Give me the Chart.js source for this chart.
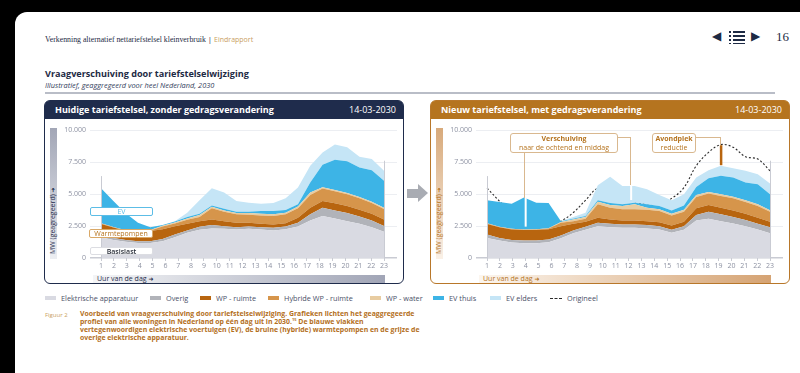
<!DOCTYPE html>
<html><head><meta charset="utf-8">
<script src="https://cdn.jsdelivr.net/npm/chart.js@4.4.1/dist/chart.umd.min.js"></script>
<style>
html,body{margin:0;padding:0;background:#000;}
#wrap{position:relative;width:800px;height:373px;background:#000;overflow:hidden;font-family:"Open Sans",sans-serif;}
#page{position:absolute;left:15px;top:12px;width:785px;height:361px;background:#fff;border-top-left-radius:12px;}
.abs{position:absolute;white-space:nowrap;}
.panel{position:absolute;top:100px;width:360px;height:184px;border-radius:6px;box-sizing:border-box;}
.phead{position:absolute;left:0;top:0;right:0;height:18px;border-radius:4px 4px 0 0;color:#fff;font-size:9px;line-height:18px;}
canvas{position:absolute;}
.lbox{position:absolute;background:#fff;border-radius:2px;font-size:7px;line-height:7px;text-align:center;box-sizing:border-box;z-index:5;}
.ann{position:absolute;background:#fff;border:1px solid #d9b88f;border-radius:3px;box-sizing:border-box;text-align:center;color:#b5731e;font-size:7px;line-height:8.5px;z-index:5;padding-top:1px;}
.cline{position:absolute;background:#d9b88f;z-index:4;}
</style></head>
<body>
<div id="wrap">
<div id="page"></div>

<div class="abs" style="left:45px;top:34px;font-family:'Liberation Serif',serif;font-size:7.8px;color:#1d2a44;">Verkenning alternatief nettariefstelsel kleinverbruik <span style="font-family:'Open Sans';color:#1d2a44;">|</span> <span style="font-family:'Open Sans';font-size:7px;color:#c9a062;">Eindrapport</span></div>
<div class="abs" style="left:712px;top:29px;font-size:12px;color:#1d2a44;font-family:'DejaVu Sans';">◀</div>
<div class="abs" style="left:729px;top:30px;width:16px;height:14px;">
  <div style="position:absolute;left:0;top:1px;width:2px;height:2px;background:#1d2a44"></div><div style="position:absolute;left:4px;top:1px;width:12px;height:2px;background:#1d2a44"></div>
  <div style="position:absolute;left:0;top:5px;width:2px;height:2px;background:#1d2a44"></div><div style="position:absolute;left:4px;top:5px;width:12px;height:2px;background:#1d2a44"></div>
  <div style="position:absolute;left:0;top:9px;width:2px;height:2px;background:#1d2a44"></div><div style="position:absolute;left:4px;top:9px;width:12px;height:2px;background:#1d2a44"></div>
  <div style="position:absolute;left:0;top:13px;width:2px;height:1px;background:#1d2a44"></div><div style="position:absolute;left:4px;top:13px;width:12px;height:1px;background:#1d2a44"></div>
</div>
<div class="abs" style="left:751px;top:29px;font-size:12px;color:#1d2a44;font-family:'DejaVu Sans';">▶</div>
<div class="abs" style="left:776px;top:29px;font-family:'Liberation Serif',serif;font-size:13px;color:#1d2a44;">16</div>

<div class="abs" style="left:45px;top:67px;font-size:9.1px;font-weight:700;color:#1d2a44;">Vraagverschuiving door tariefstelselwijziging</div>
<div class="abs" style="left:45px;top:80px;font-size:7.4px;font-style:italic;color:#33405c;">Illustratief, geaggregeerd voor heel Nederland, 2030</div>
<div class="abs" style="left:45px;top:92px;width:730px;height:1.5px;background:#b9bdc7;"></div>

<!-- left panel -->
<div class="panel" style="left:44px;border:1.5px solid #1f2c4c;">
  <div class="phead" style="background:#1f2c4c;">
    <span style="position:absolute;left:10px;font-weight:700;">Huidige tariefstelsel, zonder gedragsverandering</span>
    <span style="position:absolute;right:7px;">14-03-2030</span>
  </div>
</div>
<div class="abs" style="left:50px;top:128px;width:7px;height:131px;background:linear-gradient(to top,#eceef2,#a2a6b6);"></div>
<div class="abs" style="left:48px;top:254px;transform-origin:0 0;transform:rotate(-90deg);font-size:7px;color:#1f2c4c;line-height:10px;">MW (geagregeerd) <span style="font-family:'DejaVu Sans';font-size:6px;">➜</span></div>
<div class="abs" style="left:93px;top:275px;width:292px;height:8px;background:linear-gradient(to right,#f4f5f7,#a1a5b6);"></div>
<div class="abs" style="left:97px;top:274px;font-size:7px;color:#1f2c4c;line-height:10px;">Uur van de dag <span style="font-family:'DejaVu Sans';font-size:6px;">➜</span></div>
<canvas id="c1" width="362" height="160" style="left:44px;top:118px;"></canvas>
<div class="lbox" style="left:90px;top:207px;width:63px;height:9px;border:1px solid #5cbde6;color:#5cbde6;">EV</div>
<div class="lbox" style="left:89px;top:229px;width:64px;height:9px;border:1px solid #d9a867;color:#b5731e;">Warmtepompen</div>
<div class="lbox" style="left:90px;top:247px;width:63px;height:8px;border:1px solid #dcdde2;color:#2a2f3a;font-weight:600;">Basislast</div>

<!-- arrow -->
<div class="abs" style="left:407px;top:189px;width:11px;height:9px;background:#a9acb3;"></div>
<div class="abs" style="left:418px;top:184px;width:0;height:0;border-top:9.5px solid transparent;border-bottom:9.5px solid transparent;border-left:10px solid #a9acb3;"></div>

<!-- right panel -->
<div class="panel" style="left:430px;border:1.5px solid #b8772a;">
  <div class="phead" style="background:#b5741f;">
    <span style="position:absolute;left:10px;font-weight:700;">Nieuw tariefstelsel, met gedragsverandering</span>
    <span style="position:absolute;right:7px;">14-03-2030</span>
  </div>
</div>
<div class="abs" style="left:436px;top:128px;width:7px;height:131px;background:linear-gradient(to top,#faf1e7,#d8aa7b);"></div>
<div class="abs" style="left:434px;top:254px;transform-origin:0 0;transform:rotate(-90deg);font-size:7px;color:#b5731e;line-height:10px;">MW (geagregeerd) <span style="font-family:'DejaVu Sans';font-size:6px;">➜</span></div>
<div class="abs" style="left:479px;top:275px;width:292px;height:8px;background:linear-gradient(to right,#fcf6ef,#d5a373);"></div>
<div class="abs" style="left:483px;top:274px;font-size:7px;color:#b5731e;line-height:10px;">Uur van de dag <span style="font-family:'DejaVu Sans';font-size:6px;">➜</span></div>
<canvas id="c2" width="362" height="160" style="left:430px;top:118px;"></canvas>
<div class="ann" style="left:510px;top:133px;width:108px;height:20px;"><b>Verschuiving</b><br>naar de ochtend en middag</div>
<div class="ann" style="left:652px;top:133px;width:44px;height:20px;"><b>Avondpiek</b><br>reductie</div>
<div class="cline" style="left:524px;top:153px;width:1px;height:45px;"></div>
<div class="cline" style="left:618px;top:137px;width:12px;height:1px;"></div>
<div class="cline" style="left:630px;top:137px;width:1px;height:48px;"></div>
<div class="cline" style="left:696px;top:137px;width:24px;height:1px;"></div>
<div class="cline" style="left:720px;top:137px;width:1px;height:8px;"></div>

<div id="legend"></div>

<div class="abs" style="left:45px;top:311px;font-size:6px;color:#c9a062;">Figuur 2</div>
<div class="abs" style="left:80px;top:310px;font-size:6.9px;line-height:8px;font-weight:700;color:#b36f1c;">Voorbeeld van vraagverschuiving door tariefstelselwijziging. Grafieken lichten het geaggregeerde<br>profiel van alle woningen in Nederland op één dag uit in 2030.<sup style="font-size:4px;line-height:0;">15</sup> De blauwe vlakken<br>vertegenwoordigen elektrische voertuigen (EV), de bruine (hybride) warmtepompen en de grijze de<br>overige elektrische apparatuur.</div>
</div>

<script>
// ---- data ----
const hours = [0,1,2,3,4,5,6,7,8,9,10,11,12,13,14,15,16,17,18,19,20,21,22,23];
const xTickLabels = ['1','2','3','4','5','6','7','8','9','10','11','12','13','14','15','16','17','18','19','20','21','22','23'];
const yTickLabels = ['0','2.500','5.000','7.500','10.000'];
const seriesNames = ['Elektrische apparatuur','Overig','WP - ruimte','Hybride WP - ruimte','WP - water','EV thuis','EV elders'];
const seriesColors = ['#d9dae2','#b1b3b9','#b8650f','#d6954b','#e8cca1','#3db4e6','#c5e5f6'];

// Huidige tariefstelsel (MW per layer)
const curElektrisch = [1620,1410,1260,1180,1180,1310,1620,1970,2200,2310,2280,2230,2280,2230,2150,2250,2460,2930,3280,3090,2880,2670,2410,2040];
const curOverig     = [210,160,150,130,130,180,210,180,240,260,210,180,180,180,210,210,290,480,650,630,630,580,520,450];
const curWpRuimte   = [820,810,710,760,790,760,660,520,440,440,390,340,290,260,260,260,390,520,520,550,550,520,530,520];
const curHybride    = [50,30,30,30,50,210,210,320,320,870,740,660,630,660,660,690,740,1000,970,940,920,890,840,820];
const curWpWater    = [20,20,20,20,30,60,80,100,150,130,100,100,130,130,130,130,150,180,110,110,100,110,100,100];
const curEvThuis    = [2730,2020,1330,630,230,50,70,110,110,100,130,110,110,210,260,210,160,790,1750,2360,2470,2300,2460,2100];
const curEvElders   = [0,0,0,0,0,10,30,340,1050,1340,1260,830,700,570,630,910,1310,1300,970,1180,1100,840,870,780];

// Nieuw tariefstelsel (MW per layer)
const newElektrisch = [1570,1360,1210,1150,1150,1230,1550,1940,2200,2490,2410,2360,2360,2310,2230,1970,2200,2930,3070,2880,2700,2490,2230,1940];
const newOverig     = [260,210,200,210,210,210,210,210,240,260,260,260,260,260,260,230,290,420,550,530,500,470,440,470];
const newWpRuimte   = [820,830,820,820,820,810,730,520,390,390,340,310,310,310,310,340,340,530,520,520,520,500,470,420];
const newHybride    = [40,30,30,30,40,50,260,210,240,1050,920,870,870,890,870,790,790,890,890,920,940,920,920,790];
const newWpWater    = [20,20,20,20,20,30,70,130,130,210,210,260,390,160,130,130,150,160,130,130,130,130,130,100];
const newEvThuis    = [1800,1930,1960,2490,2080,1970,60,60,80,110,160,130,130,260,260,260,340,620,1080,1440,1500,1390,1570,1260];
const newEvElders   = [0,0,0,0,0,0,20,130,260,1180,2040,1440,1310,1180,870,790,870,740,620,780,730,910,790,840];

const curLayers = [curElektrisch,curOverig,curWpRuimte,curHybride,curWpWater,curEvThuis,curEvElders];
const newLayers = [newElektrisch,newOverig,newWpRuimte,newHybride,newWpWater,newEvThuis,newEvElders];
// Originele profiel = totaal huidige situatie
const origineel = hours.map((h,i)=>curLayers.reduce((s,l)=>s+l[i],0));
const newTotal  = hours.map((h,i)=>newLayers.reduce((s,l)=>s+l[i],0));

// ---- chart ----
const FONT = '"Open Sans", sans-serif';
function pts(arr){ return hours.map((h,i)=>({x:h,y:arr[i]})); }

const edgeLines = {
  id:'edgeLines',
  afterDatasetsDraw(chart){
    const {ctx, scales:{x,y}} = chart;
    ctx.save(); ctx.strokeStyle='#c9cbd3'; ctx.lineWidth=1;
    [[hours[0],6400],[hours[hours.length-1],7600]].forEach(([hx,v])=>{
      const px=Math.round(x.getPixelForValue(hx))+0.5;
      ctx.beginPath(); ctx.moveTo(px,y.getPixelForValue(0)); ctx.lineTo(px,y.getPixelForValue(v)); ctx.stroke();
    });
    ctx.restore();
  }
};
const shiftMarks = {
  id:'shiftMarks',
  afterDatasetsDraw(chart){
    const {ctx, scales:{x,y}} = chart;
    const xl = k => (k-1)*23/22; // position of tick label k
    ctx.save();
    ctx.strokeStyle='#ffffff'; ctx.lineWidth=2;
    [[xl(4),2450,4700],[xl(12.2),4530,5700]].forEach(([vx,a,b])=>{
      const px=x.getPixelForValue(vx);
      ctx.beginPath(); ctx.moveTo(px,y.getPixelForValue(a)); ctx.lineTo(px,y.getPixelForValue(b)); ctx.stroke();
    });
    ctx.strokeStyle='#b8650f'; ctx.lineWidth=2.5;
    const px=x.getPixelForValue(19.02);
    ctx.beginPath(); ctx.moveTo(px,y.getPixelForValue(newTotal[19]+50)); ctx.lineTo(px,y.getPixelForValue(origineel[19]-50)); ctx.stroke();
    ctx.restore();
  }
};

function makeChart(id, layers, withOrig){
  const ds = layers.map((l,i)=>({
    label:seriesNames[i], data:pts(l), backgroundColor:seriesColors[i], borderWidth:0,
    pointRadius:0, fill: i===0?'origin':'-1', stack:'main', tension:0, order:0
  }));
  if(withOrig){
    ds.push({label:'Origineel', data:pts(origineel), borderColor:'#2b2b2b', borderWidth:1.1,
      borderDash:[2,2], pointRadius:0, fill:false, stack:'orig', tension:0.35});
  }
  return new Chart(document.getElementById(id), {
    type:'line',
    data:{datasets:ds},
    options:{
      responsive:false, animation:false, devicePixelRatio:1,
      layout:{padding:{left:0,right:9,top:12,bottom:6}},
      plugins:{legend:{display:false}, tooltip:{enabled:false}},
      scales:{
        x:{type:'linear', min:-0.9, max:24.05,
          afterBuildTicks: ax => { ax.ticks = xTickLabels.map((t,k)=>({value:k*23/22})); },
          afterFit: s => { s.height = 14; },
          grid:{display:true, drawOnChartArea:false, drawTicks:true, tickLength:3, color:'#c9cbd3'},
          border:{display:false},
          ticks:{autoSkip:false, maxRotation:0, padding:1, color:'#8d92a2', font:{family:FONT,size:7},
            callback:(v,i)=>xTickLabels[i]}
        },
        y:{stacked:true, min:0, max:10000,
          afterFit: s => { s.width = 46; },
          border:{display:false},
          grid:{drawTicks:false, color: c => c.tick && c.tick.value===0 ? '#c9cbd3' : '#eceef2',
                lineWidth: c => c.tick && c.tick.value===0 ? 1.5 : 1},
          ticks:{stepSize:2500, padding:4, color:'#8d92a2', font:{family:FONT,size:7},
            callback:(v,i)=>yTickLabels[i]}
        }
      }
    },
    plugins: withOrig ? [edgeLines, shiftMarks] : [edgeLines]
  });
}
makeChart('c1', curLayers, false);
makeChart('c2', newLayers, true);

// ---- legend ----
const legendX = [45,150,200,268,370,433,490,550];
const lg = document.getElementById('legend');
seriesNames.concat(['Origineel']).forEach((name,i)=>{
  const d=document.createElement('div'); d.className='abs';
  d.style.cssText=`left:${legendX[i]}px;top:293px;font-size:7.3px;color:#4a5068;line-height:10px;`;
  const sw = i<seriesNames.length
    ? `<span style="display:inline-block;width:11px;height:4px;background:${seriesColors[i]};vertical-align:middle;margin-right:5px;position:relative;top:-1px;"></span>`
    : `<span style="display:inline-block;width:12px;height:0;border-top:1.5px dashed #2b2b2b;vertical-align:middle;margin-right:5px;position:relative;top:-1px;"></span>`;
  d.innerHTML = sw + name;
  lg.appendChild(d);
});
</script>
</body></html>
